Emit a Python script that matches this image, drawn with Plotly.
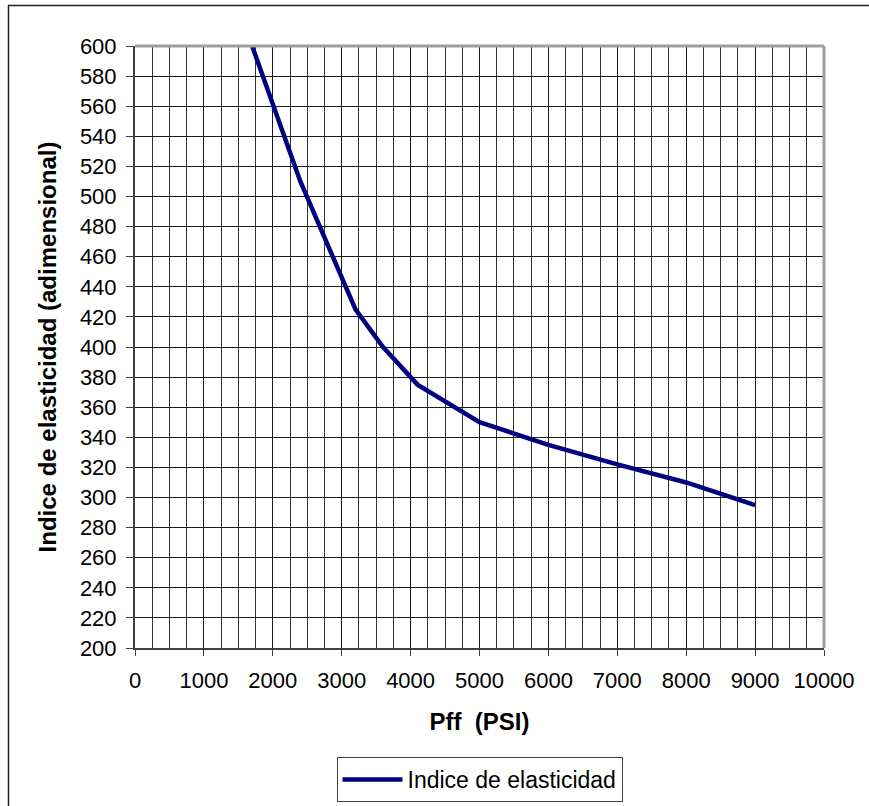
import plotly.graph_objects as go

# Pressure (PSI) and elasticity index values
pff = [1700, 2400, 3200, 3600, 4100, 5000, 6000, 7000, 8000, 9000]
indice = [600, 510, 425, 400, 375, 350, 335, 322, 310, 295]

series_name = "Indice de elasticidad"
x_title = "Pff  (PSI)"
y_title = "Indice de elasticidad (adimensional)"

FONT = "Liberation Sans, Arial, sans-serif"

fig = go.Figure()
fig.add_trace(go.Scatter(
    x=pff, y=indice, mode="lines", name=series_name,
    line=dict(color="#000080", width=4.5),
))

W, H = 869, 806
ml, mr, mt, mb = 135, 45, 46, 158
pw, ph = W - ml - mr, H - mt - mb

fig.update_layout(
    width=W, height=H,
    margin=dict(l=ml, r=mr, t=mt, b=mb, autoexpand=False),
    paper_bgcolor="white", plot_bgcolor="white",
    font=dict(family=FONT, size=22, color="black"),
    showlegend=True,
    legend=dict(
        x=0.5, xanchor="center",
        y=(H - mb - 757) / ph, yanchor="top",
        orientation="h",
        bordercolor="#404040", borderwidth=1,
        bgcolor="white",
        font=dict(family=FONT, size=23, color="black"),
        itemwidth=60,
    ),
)

fig.update_xaxes(
    range=[0, 10000], dtick=1000, tick0=0, tickformat="d",
    showgrid=True, gridcolor="#1a1a1a", gridwidth=1,
    minor=dict(dtick=250, showgrid=True, gridcolor="#333333", gridwidth=1),
    showline=True, linecolor="#404040", linewidth=2,
    ticks="outside", ticklen=6, tickcolor="#404040", tickwidth=1,
    ticklabelstandoff=6,
    tickfont=dict(family=FONT, size=22),
    title=dict(text="<b>" + x_title + "</b>", font=dict(family=FONT, size=24), standoff=21),
    zeroline=False, automargin=False,
)
fig.update_yaxes(
    range=[200, 600], dtick=20, tick0=200, tickformat="d",
    showgrid=True, gridcolor="#1a1a1a", gridwidth=1,
    showline=True, linecolor="#404040", linewidth=2,
    ticks="outside", ticklen=7, tickcolor="#404040", tickwidth=1,
    ticklabelstandoff=5,
    tickfont=dict(family=FONT, size=22),
    title=dict(text="<b>" + y_title + "</b>", font=dict(family=FONT, size=24), standoff=16),
    zeroline=False, automargin=False,
)

# gray frame on the top and right of the plot area
fig.add_shape(type="line", xref="paper", yref="paper", x0=0, x1=1, y0=1, y1=1,
              line=dict(color="#a0a0a0", width=3))
fig.add_shape(type="line", xref="paper", yref="paper", x0=1, x1=1, y0=0, y1=1,
              line=dict(color="#a0a0a0", width=3))

# outer chart border
fig.add_shape(type="rect", xref="paper", yref="paper",
              x0=(8.5 - ml) / pw, x1=(W + 10 - ml) / pw,
              y0=(H - mb - (H + 10)) / ph, y1=1 + (mt - 5.5) / ph,
              line=dict(color="#202020", width=1.5))

fig.write_html("out.html")
